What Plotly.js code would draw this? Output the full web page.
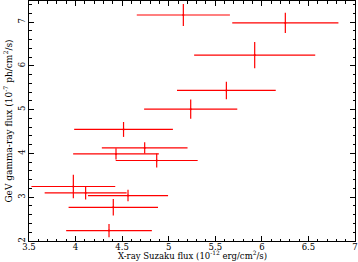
<!DOCTYPE html>
<html><head><meta charset="utf-8">
<script src="https://cdn.plot.ly/plotly-3.0.1.min.js"></script>
<style>html,body{margin:0;padding:0;background:#fff}#plot{width:358px;height:262px}</style>
</head><body><div id="plot"></div>
<script>
// X-ray Suzaku flux (1e-12 erg/cm2/s)
const xray = [5.157, 6.252, 5.923, 5.619, 5.236, 4.515, 4.742, 4.434, 4.871, 3.976, 4.108, 4.563, 4.405, 4.359];
const xrayErr = [0.50, 0.57, 0.65, 0.53, 0.50, 0.53, 0.46, 0.46, 0.44, 0.45, 0.44, 0.43, 0.48, 0.46];
// GeV gamma-ray flux (1e-7 ph/cm2/s)
const gamma = [7.16, 6.98, 6.245, 5.438, 5.011, 4.547, 4.126, 3.989, 3.838, 3.244, 3.097, 3.038, 2.77, 2.238];
const gammaErr = [0.25, 0.23, 0.30, 0.20, 0.22, 0.17, 0.13, 0.13, 0.16, 0.27, 0.15, 0.13, 0.19, 0.15];

const xTitle = 'X-ray Suzaku flux (10<sup>-12</sup> erg/cm<sup>2</sup>/s)';
const yTitle = 'GeV gamma-ray flux (10<sup>-7</sup> ph/cm<sup>2</sup>/s)';

const font = {family: 'DejaVu Serif', size: 9, color: '#000'};
const xTitleFont = {family: 'DejaVu Serif', size: 8.5, color: '#000'};
const tickFont = {family: 'DejaVu Serif', size: 8.5, color: '#000'};
const trace = {
  x: xray, y: gamma, type: 'scatter', mode: 'markers',
  marker: {color: 'red', size: 2},
  error_x: {type: 'data', array: xrayErr, visible: true, color: 'red', thickness: 1.2, width: 0},
  error_y: {type: 'data', array: gammaErr, visible: true, color: 'red', thickness: 1.2, width: 0},
  hoverinfo: 'none'
};
const axisCommon = {
  showgrid: false, zeroline: false, showline: true, linecolor: '#000', linewidth: 1,
  mirror: 'allticks', ticks: 'inside', ticklen: 5, tickcolor: '#000', tickwidth: 1,
  tickfont: tickFont
};
const layout = {
  width: 358, height: 262,
  margin: {l: 29, r: 3, t: 1, b: 21},
  paper_bgcolor: '#fff', plot_bgcolor: '#fff',
  showlegend: false,
  font: font,
  xaxis: Object.assign({}, axisCommon, {
    range: [3.5, 7], dtick: 0.5, tick0: 3.5, ticklabelstandoff: -2,
    minor: {dtick: 0.1, ticks: 'inside', ticklen: 2.5, tickcolor: '#000'}
  }),
  yaxis: Object.assign({}, axisCommon, {
    range: [2, 7.48], dtick: 1, tick0: 2, tickangle: -90,
    minor: {dtick: 0.2, ticks: 'inside', ticklen: 2.5, tickcolor: '#000'},
    title: {text: yTitle, font: font, standoff: 2}
  }),
  annotations: [{
    text: xTitle, xref: 'paper', yref: 'paper', x: 0.5, y: -0.086,
    xanchor: 'center', yanchor: 'bottom', borderpad: 0, showarrow: false, font: xTitleFont
  }]
};
Plotly.newPlot('plot', [trace], layout, {staticPlot: true, displayModeBar: false});
</script></body></html>
